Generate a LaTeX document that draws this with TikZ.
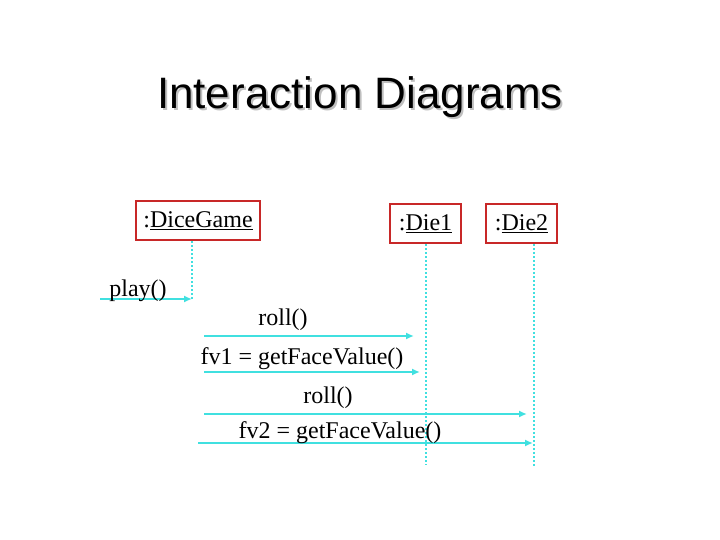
\documentclass[tikz,border=0pt]{standalone}
\usepackage{fontspec}
\setmainfont{Liberation Serif}
\newfontfamily\titlefont{Liberation Sans}
\usetikzlibrary{arrows.meta}
\definecolor{msg}{RGB}{64,224,224}
\definecolor{boxred}{RGB}{200,40,40}
\begin{document}
\begin{tikzpicture}[x=1pt,y=-1pt,
  obj/.style={draw=boxred,line width=2pt,minimum height=39pt,inner xsep=4pt,font=\fontsize{24}{26}\selectfont,anchor=north west},
  life/.style={msg,line width=2pt,dotted},
  msgarrow/.style={msg,line width=2.4pt,-{Latex[length=8pt,width=7pt]}},
  lbl/.style={font=\fontsize{24}{26}\selectfont,inner sep=0pt}]
\useasboundingbox (0,0) rectangle (720,540);
\node (shadow) [font=\titlefont\fontsize{44}{46}\selectfont,text=gray!50] at (362,99) {Interaction Diagrams};
\node (title) [font=\titlefont\fontsize{44}{46}\selectfont] at (360,97) {Interaction Diagrams};
\node (dg) [obj,minimum width=124pt] at (135,200) {:\underline{DiceGame}};
\node (d1) [obj,minimum width=71pt] at (389,203) {:\underline{Die1}};
\node (d2) [obj,minimum width=71pt] at (485,203) {:\underline{Die2}};
\coordinate (dgb) at (192,299);
\coordinate (d1b) at (426,465);
\coordinate (d2b) at (534,467);
\draw[life] (dg.south -| dgb) -- (dgb);
\draw[life] (d1.south -| d1b) -- (d1b);
\draw[life] (d2.south -| d2b) -- (d2b);
\coordinate (s0) at (100,299);
\coordinate (s1) at (204,336); \coordinate (e1) at (414,336);
\coordinate (s2) at (204,372); \coordinate (e2) at (420,372);
\coordinate (s3) at (204,414); \coordinate (e3) at (527,414);
\coordinate (s4) at (198,443); \coordinate (e4) at (533,443);
\draw[msgarrow] (s0) -- (dgb);
\draw[msgarrow] (s1) -- (e1);
\draw[msgarrow] (s2) -- (e2);
\draw[msgarrow] (s3) -- (e3);
\draw[msgarrow] (s4) -- (e4);
\node (l0) [lbl] at (138,291) {play()};
\node (l1) [lbl] at (283,320) {roll()};
\node (l2) [lbl] at (302,359) {fv1 = getFaceValue()};
\node (l3) [lbl] at (328,398) {roll()};
\node (l4) [lbl] at (340,433) {fv2 = getFaceValue()};
\end{tikzpicture}
\end{document}
